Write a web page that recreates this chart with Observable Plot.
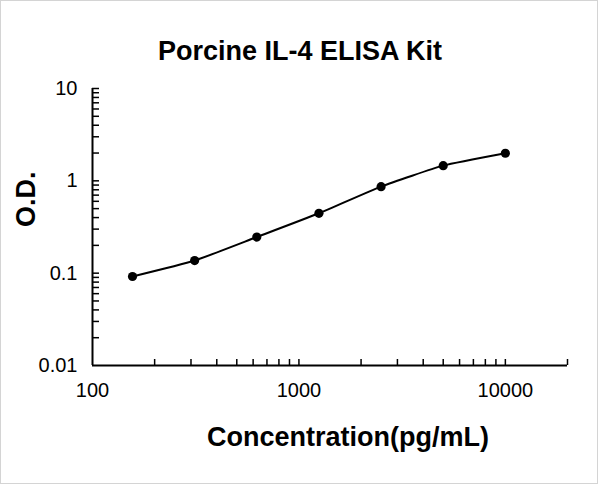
<!DOCTYPE html>
<html>
<head>
<meta charset="utf-8">
<script src="https://cdn.jsdelivr.net/npm/d3@7"></script>
<script src="https://cdn.jsdelivr.net/npm/@observablehq/plot@0.6"></script>
<style>
  html, body { margin: 0; padding: 0; background: white; }
  #wrap { position: relative; width: 600px; height: 486px; }
  #border { position: absolute; left: 0; top: 0; width: 596px; height: 482px; border: 1px solid #d4d4d4; pointer-events: none; }
</style>
</head>
<body>
<div id="wrap"><div id="border"></div></div>
<script>
// Data
const concentrations = [156.25, 312.5, 625, 1250, 2500, 5000, 10000];
const odValues = [0.092, 0.137, 0.246, 0.445, 0.865, 1.46, 1.99];

// Tick labels and tick positions
const xTickLabels = [100, 1000, 10000];
const yTickLabels = [0.01, 0.1, 1, 10];
const xTickMarks = [200, 300, 400, 500, 600, 700, 800, 900, 1000,
  2000, 3000, 4000, 5000, 6000, 7000, 8000, 9000, 10000, 20000];
const yTickMarks = [0.02, 0.03, 0.04, 0.05, 0.06, 0.07, 0.08, 0.09, 0.1,
  0.2, 0.3, 0.4, 0.5, 0.6, 0.7, 0.8, 0.9, 1,
  2, 3, 4, 5, 6, 7, 8, 9, 10];

const title = "Porcine IL-4 ELISA Kit";
const xLabel = "Concentration(pg/mL)";
const yLabel = "O.D.";

const data = concentrations.map((c, i) => ({conc: c, od: odValues[i]}));

const chart = Plot.plot({
  width: 600,
  height: 486,
  marginLeft: 92,
  marginRight: 33,
  marginTop: 88,
  marginBottom: 121,
  x: {type: "log", domain: [100, 20000]},
  y: {type: "log", domain: [0.01, 10]},
  style: {fontFamily: "'Liberation Sans', Arial, sans-serif", background: "white", color: "black"},
  marks: [
    // axis lines
    Plot.ruleY([0.01], {stroke: "black", strokeWidth: 2}),
    Plot.ruleX([100], {stroke: "black", strokeWidth: 2}),
    // inward tick marks
    Plot.axisX(xTickMarks, {tickSize: -6, strokeWidth: 1.5, tickFormat: () => "", label: null}),
    Plot.axisY(yTickMarks, {tickSize: -7, strokeWidth: 1.5, tickFormat: () => "", label: null}),
    // tick labels
    Plot.axisX(xTickLabels, {tickSize: 0, tickPadding: 17, fontSize: 20, tickFormat: d => String(d), label: null}),
    Plot.axisY(yTickLabels, {tickSize: 0, tickPadding: 15, fontSize: 20, tickFormat: d => String(d), label: null}),
    // curve and points
    Plot.line(data, {x: "conc", y: "od", curve: d3.curveCardinal.tension(0.5), stroke: "black", strokeWidth: 2}),
    Plot.dot(data, {x: "conc", y: "od", r: 4.6, fill: "black", stroke: "none"}),
    // titles
    Plot.text([title], {frameAnchor: "top", dx: -30, dy: -37, fontSize: 27, fontWeight: "bold", lineAnchor: "middle"}),
    Plot.text([xLabel], {frameAnchor: "bottom", dx: 18, dy: 72, fontSize: 27, fontWeight: "bold", lineAnchor: "middle"}),
    Plot.text([yLabel], {frameAnchor: "left", dx: -66, rotate: -90, fontSize: 27, fontWeight: "bold", lineAnchor: "middle"})
  ]
});
document.getElementById("wrap").prepend(chart);
</script>
</body>
</html>
